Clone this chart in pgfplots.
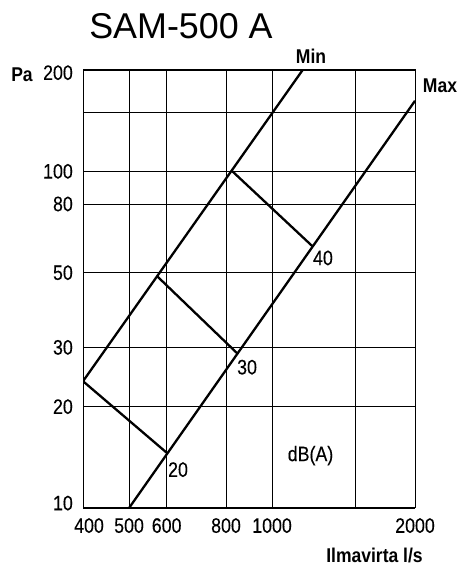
\documentclass[border=0pt]{standalone}
\usepackage{fontspec}
\setmainfont{Liberation Sans}[FakeStretch=0.85, FakeBold=0.2]
\newfontfamily\titlefont{Liberation Sans}
\newfontfamily\labfont{Liberation Sans}[FakeStretch=0.88]
\usepackage{pgfplots}
\pgfplotsset{compat=1.18}

\begin{document}
\begin{tikzpicture}
  \path[use as bounding box] (-83bp,-60bp) rectangle (377bp,508bp);
  \begin{axis}[
      scale only axis,
      width=332bp, height=438bp,
      xmode=log, ymode=log,
      xmin=400, xmax=2000, ymin=10, ymax=200,
      xtick={400,500,600,800,1000,1500,2000},
      xticklabels={\hspace{12bp}400,500,600,800,1000,,2000\hspace{18bp}},
      ytick={10,20,30,50,80,100,150,200},
      yticklabels={\rule[-10bp]{0pt}{10bp}10,20,30,50,80,100,,\rule{0pt}{20bp}200},
      grid=major,
      major grid style={black, line width=0.8bp},
      major tick length=0pt,
      axis line style={black, line width=1bp},
      tick label style={font=\fontsize{21}{21}\selectfont, inner sep=0pt},
      xticklabel style={yshift=-10bp},
      yticklabel style={xshift=-10bp},
    ]
    % Min / Max lines
    \addplot[black, line width=2.3bp] coordinates {(400,23.8) (1160,200)};
    \addplot[black, line width=2.3bp] coordinates {(500,10) (2000,162)};
    % dB(A) lines
    \addplot[black, line width=2.3bp] coordinates {(400,23.8) (600,14.6)};
    \addplot[black, line width=2.3bp] coordinates {(573,48.8) (847,28.7)};
    \addplot[black, line width=2.3bp] coordinates {(822,100.5) (1215,60)};

    \node[font=\fontsize{21}{21}\selectfont] at (axis cs:634,13) {20};
    \node[font=\fontsize{21}{21}\selectfont] at (axis cs:886,26.2) {30};
    \node[font=\fontsize{21}{21}\selectfont] at (axis cs:1280,55.3) {40};
    \node[font=\fontsize{21}{21}\selectfont] at (axis cs:1205,14.3) {dB(A)};
  \end{axis}
  \node[font=\titlefont\fontsize{36}{36}\selectfont] at (98bp,482bp) {SAM-500 A};
  \node[font=\labfont\bfseries\fontsize{20}{20}\selectfont] at (228bp,452bp) {Min};
  \node[font=\labfont\bfseries\fontsize{20}{20}\selectfont] at (357bp,422bp) {Max};
  \node[font=\labfont\bfseries\fontsize{20}{20}\selectfont] at (-61bp,433bp) {Pa};
  \node[font=\labfont\bfseries\fontsize{20}{20}\selectfont] at (291.5bp,-47.5bp) {Ilmavirta l/s};
\end{tikzpicture}
\end{document}
